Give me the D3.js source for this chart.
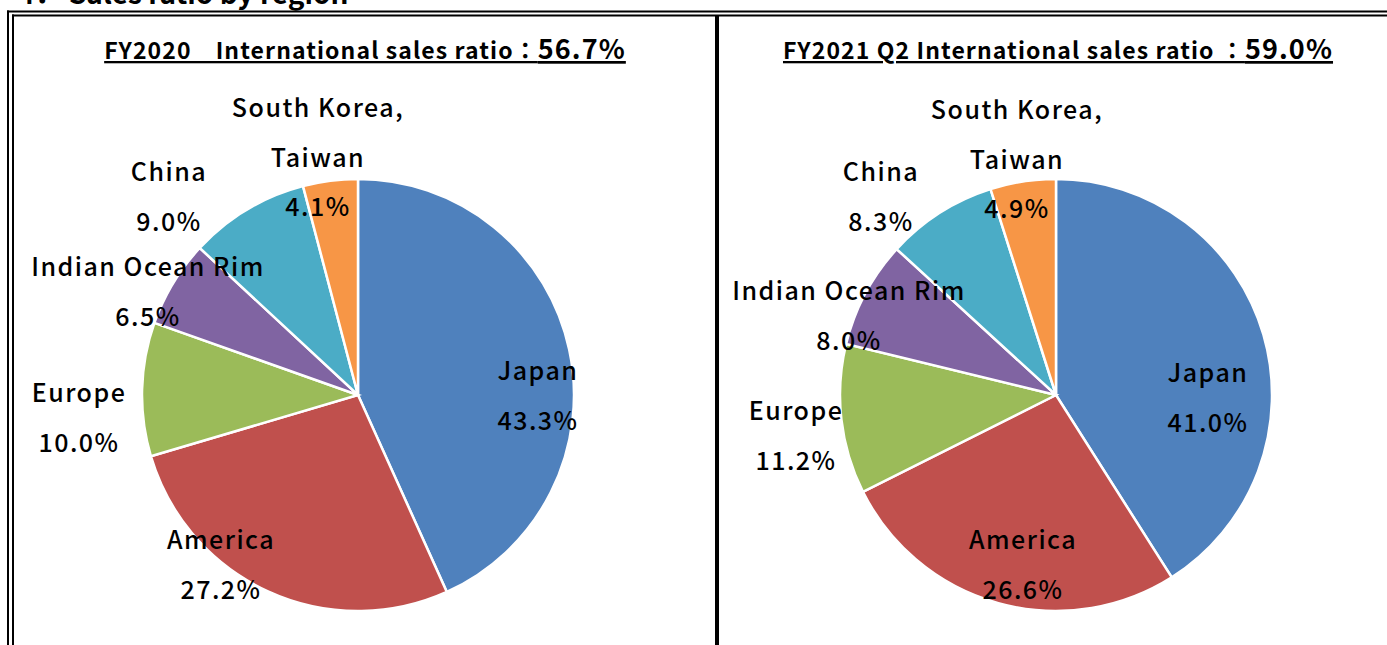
<!DOCTYPE html>
<html><head><meta charset="utf-8">
<script src="https://cdn.jsdelivr.net/npm/d3@7"></script>
<style>body{margin:0;background:#fff}svg{display:block}</style>
</head><body>
<script>
const regions = ["Japan","America","Europe","Indian Ocean Rim","China","South Korea, Taiwan"];
const labelLines = [["Japan"],["America"],["Europe"],["Indian Ocean Rim"],["China"],["South Korea,","Taiwan"]];
const colors = ["#4F81BD","#C0504D","#9BBB59","#8064A2","#4BACC6","#F79646"];
const fy2020 = [43.3,27.2,10.0,6.5,9.0,4.1];
const fy2021q2 = [41.0,26.6,11.2,8.0,8.3,4.9];
const titles = [
  {main:"FY2020\u3000International sales ratio\uFF1A", ratio:"56.7%"},
  {main:"FY2021 Q2 International sales ratio \uFF1A", ratio:"59.0%"}
];
const heading = "4\uFF0E Sales ratio by region";

const W=1387,H=645;
const svg=d3.select("body").append("svg").attr("width",W).attr("height",H);
const FONT='"Noto Sans CJK JP","Noto Sans",sans-serif';

// heading (cut off at top in the reference)
svg.append("text").attr("x",18).attr("y",4).attr("font-family",FONT).attr("font-weight",700)
  .attr("font-size",28).text(heading);

// frame
const g=svg.append("g").attr("fill","none").attr("stroke","#000");
g.append("line").attr("x1",7).attr("x2",W).attr("y1",11.5).attr("y2",11.5).attr("stroke-width",2);
g.append("line").attr("x1",12).attr("x2",W).attr("y1",15.5).attr("y2",15.5).attr("stroke-width",2);
g.append("line").attr("x1",8).attr("x2",8).attr("y1",10.5).attr("y2",H).attr("stroke-width",2);
g.append("line").attr("x1",13).attr("x2",13).attr("y1",14.5).attr("y2",H).attr("stroke-width",2);
g.append("line").attr("x1",717).attr("x2",717).attr("y1",16).attr("y2",H).attr("stroke-width",4);

const panels=[
  {data:fy2020, cx:358, cy:395, tx:365,
   offs:[[180,-24],[-137,145],[-279,-2],[-210,-128],[-189,-223],[-40,-287]]},
  {data:fy2021q2, cx:1056, cy:395, tx:1058,
   offs:[[152,-22],[-33,145],[-260,16],[-207,-104],[-175,-223],[-39,-285]]}
];
const R=216, lineH=49.5;
const pie=d3.pie().sort(null).value(d=>d);
const arc=d3.arc().innerRadius(0).outerRadius(R);

panels.forEach((p,pi)=>{
  const t=svg.append("text").attr("x",p.tx).attr("y",59).attr("text-anchor","middle")
    .attr("font-family",FONT).attr("font-weight",700).attr("text-decoration","underline")
    .attr("letter-spacing",1.1);
  t.append("tspan").attr("font-size",23).text(titles[pi].main);
  t.append("tspan").attr("font-size",27).text(titles[pi].ratio);

  const gp=svg.append("g").attr("transform",`translate(${p.cx},${p.cy})`);
  gp.selectAll("path").data(pie(p.data)).join("path")
    .attr("d",arc).attr("fill",(d,i)=>colors[i]).attr("stroke","#fff").attr("stroke-width",2.5);

  p.data.forEach((v,i)=>{
    const lines=labelLines[i].concat([v.toFixed(1)+"%"]);
    const [dx,dy]=p.offs[i];
    lines.forEach((s,k)=>{
      gp.append("text").attr("x",dx).attr("y",dy+k*lineH).attr("dy","0.36em")
        .attr("text-anchor","middle").attr("font-family",FONT).attr("font-weight",500)
        .attr("font-size",25).attr("letter-spacing",1.5).attr("fill","#000").text(s);
    });
  });
});
</script>
</body></html>
